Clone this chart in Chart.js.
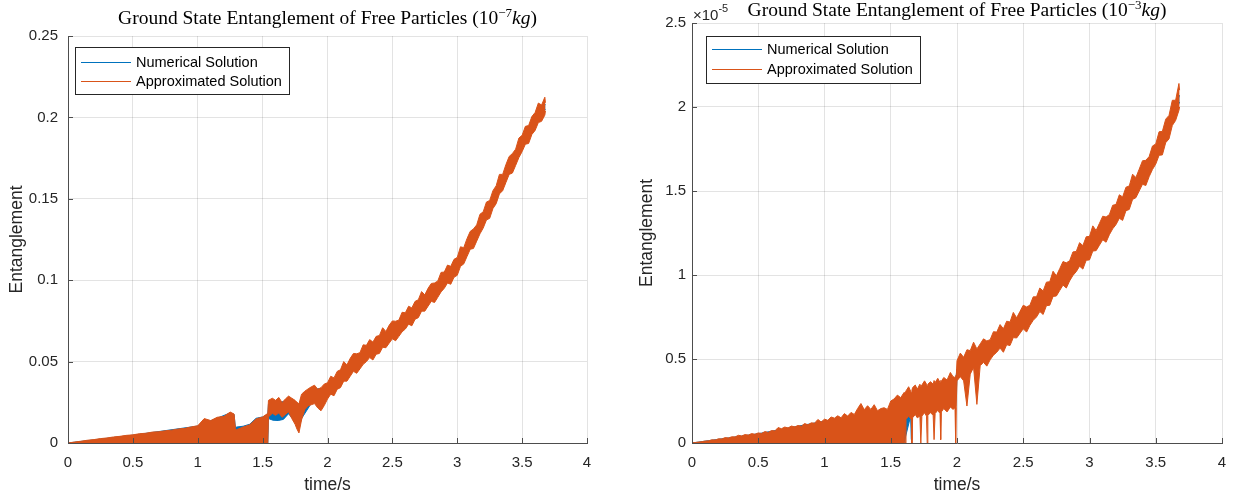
<!DOCTYPE html>
<html><head><meta charset="utf-8">
<script src="https://cdn.jsdelivr.net/npm/chart.js@4.4.0/dist/chart.umd.min.js"></script>
<style>
html,body{margin:0;padding:0;background:#fff;}
#wrap{position:relative;width:1239px;height:498px;overflow:hidden;background:#fff;}
canvas{position:absolute;top:0;}
#c1{left:0;width:620px;height:498px;} #c2{left:620px;width:619px;height:498px;}
</style></head><body>
<div id="wrap"><canvas id="c1" width="620" height="498"></canvas><canvas id="c2" width="619" height="498"></canvas></div>
<script>
// ---------- labels ----------
const SERIES_NAMES = ['Numerical Solution', 'Approximated Solution'];
const X_TICKS = [0, 0.5, 1, 1.5, 2, 2.5, 3, 3.5, 4];
const X_TICK_LABELS = ['0', '0.5', '1', '1.5', '2', '2.5', '3', '3.5', '4'];
const Y_TICKS_L = [0, 0.05, 0.1, 0.15, 0.2, 0.25];
const Y_TICK_LABELS_L = ['0', '0.05', '0.1', '0.15', '0.2', '0.25'];
const Y_TICKS_R = [0, 0.5, 1, 1.5, 2, 2.5];
const Y_TICK_LABELS_R = ['0', '0.5', '1', '1.5', '2', '2.5'];

// ---------- left chart (10^-7 kg) ----------
// approximated solution: [time, upper edge, lower edge] of the oscillating band
const L_APPROX = [
[0,0,0],[0.05,0.0006,0],[0.1,0.0011,0],[0.15,0.0017,0],[0.2,0.0021,0],[0.25,0.0027,0],[0.3,0.0031,0],[0.35,0.0037,0],[0.4,0.0041,0],[0.45,0.0047,0],
[0.5,0.0050,0],[0.55,0.0057,0],[0.6,0.0060,0],[0.65,0.0067,0],[0.7,0.0069,0],[0.75,0.0075,0],[0.8,0.0079,0],[0.85,0.0086,0],[0.9,0.0090,0],[0.95,0.0099,0],
[1.0,0.0106,0],[1.05,0.0150,0],[1.1,0.0138,0],[1.15,0.0158,0],[1.2,0.0163,0],[1.25,0.0190,0],[1.28,0.0178,0],[1.29,0.0088,0],[1.3,0.0082,0],[1.35,0.0098,0],
[1.4,0.0112,0],[1.45,0.0148,0],[1.5,0.0160,0],[1.54,0.0182,0],
[1.545,0.0262,0.0160],[1.575,0.0275,0.0182],[1.6,0.0262,0.0170],[1.625,0.0280,0.0185],[1.65,0.0248,0.0158],[1.675,0.0270,0.0175],[1.7,0.0288,0.0192],
[1.725,0.0275,0.0150],[1.75,0.0262,0.0115],[1.765,0.0250,0.0085],[1.78,0.0240,0.0062],[1.8,0.0300,0.0142],[1.825,0.0318,0.0205],[1.85,0.0332,0.0228],
[1.875,0.0345,0.0235],[1.9,0.0355,0.0242],[1.925,0.0330,0.0215],[1.95,0.0340,0.0198],[1.975,0.0362,0.0230],
[2.0,0.037,0.027],[2.025,0.041,0.030],[2.05,0.040,0.029],[2.075,0.044,0.033],[2.1,0.045,0.034],[2.125,0.050,0.038],[2.15,0.048,0.038],[2.175,0.052,0.041],
[2.2,0.055,0.044],[2.225,0.0548,0.0428],[2.25,0.0555,0.0455],[2.275,0.0603,0.0483],[2.3,0.060,0.050],[2.325,0.0635,0.0525],[2.35,0.062,0.051],[2.375,0.0655,0.0545],
[2.4,0.066,0.055],[2.425,0.0708,0.0588],[2.45,0.0685,0.0585],[2.475,0.0723,0.0613],[2.5,0.075,0.064],[2.525,0.0748,0.0628],[2.55,0.0755,0.0655],[2.575,0.0803,0.0683],
[2.6,0.080,0.070],[2.625,0.084,0.073],[2.65,0.083,0.072],[2.675,0.087,0.076],[2.7,0.088,0.077],[2.725,0.093,0.081],[2.75,0.091,0.081],[2.775,0.095,0.084],
[2.8,0.098,0.087],[2.825,0.0983,0.0863],[2.85,0.0995,0.0895],[2.875,0.1048,0.0928],[2.9,0.105,0.095],[2.925,0.1093,0.0983],[2.95,0.1085,0.0975],[2.975,0.1128,0.1018],
[3.0,0.114,0.103],[3.025,0.1205,0.1085],[3.05,0.120,0.110],[3.075,0.1255,0.1145],[3.1,0.130,0.119],[3.125,0.1315,0.1195],[3.15,0.134,0.124],[3.175,0.1405,0.1285],
[3.2,0.142,0.132],[3.225,0.148,0.137],[3.25,0.149,0.138],[3.275,0.155,0.144],[3.3,0.158,0.147],[3.325,0.165,0.153],[3.35,0.165,0.155],[3.375,0.171,0.160],
[3.4,0.176,0.165],[3.425,0.1778,0.1658],[3.45,0.1805,0.1705],[3.475,0.1873,0.1753],[3.5,0.189,0.179],[3.525,0.1945,0.1835],[3.55,0.195,0.184],[3.575,0.2005,0.1895],
[3.6,0.203,0.192],[3.625,0.2088,0.1968],[3.65,0.2076,0.1976],[3.675,0.2124,0.2014],[3.68,0.209,0.204]
];
// numerical solution band (mostly hidden under the approximated one)
const L_NUM = [
[0,0,0],[0.5,0.0048,0],[1.0,0.0104,0],[1.25,0.0185,0],[1.28,0.0175,0],[1.29,0.0096,0],[1.3,0.0098,0],[1.35,0.0103,0],[1.4,0.0115,0],[1.45,0.0152,0],
[1.5,0.0160,0],[1.54,0.0176,0],[1.545,0.0240,0.0150],[1.58,0.0250,0.0140],[1.62,0.0245,0.0138],[1.66,0.0255,0.0145],[1.7,0.0270,0.0180],[1.75,0.0250,0.0130],
[1.78,0.0230,0.0100],[1.8,0.0280,0.0150],[1.88,0.0330,0.0250],[1.9,0.0330,0.0250],[2.0,0.0340,0.0290],[2.25,0.0535,0.0495],[2.5,0.070,0.066],[2.75,0.089,0.085],
[3.0,0.111,0.107],[3.25,0.147,0.143],[3.5,0.186,0.182],[3.6,0.200,0.196],[3.68,0.208,0.205]
];

// ---------- right chart (10^-3 kg, values in units of 1e-5) ----------
const R_APPROX = [
[0,0,0],[0.025,0.003,0],[0.05,0.006,0],[0.075,0.008,0],[0.1,0.012,0],[0.125,0.013,0],[0.15,0.019,0],[0.175,0.018,0],[0.2,0.025,0],[0.225,0.024,0],
[0.25,0.032,0],[0.275,0.030,0],[0.3,0.037,0],[0.325,0.036,0],[0.35,0.046,0],[0.375,0.042,0],[0.4,0.050,0],[0.425,0.047,0],[0.45,0.056,0],[0.475,0.052,0],
[0.5,0.060,0],[0.525,0.057,0],[0.55,0.068,0],[0.575,0.063,0],[0.6,0.074,0],[0.625,0.072,0],[0.65,0.092,0],[0.675,0.085,0],[0.7,0.095,0],[0.725,0.090,0],
[0.75,0.101,0],[0.775,0.096,0],[0.8,0.104,0],[0.825,0.100,0],[0.85,0.116,0],[0.875,0.108,0],[0.9,0.120,0],[0.925,0.118,0],[0.95,0.140,0],[0.975,0.125,0],
[1.0,0.142,0],[1.025,0.135,0],[1.05,0.155,0],[1.075,0.148,0],[1.1,0.162,0],[1.125,0.150,0],[1.15,0.175,0],[1.175,0.160,0],[1.2,0.182,0],[1.225,0.170,0],
[1.25,0.205,0],[1.275,0.235,0],[1.3,0.198,0],[1.325,0.222,0],[1.35,0.200,0],[1.375,0.228,0],[1.4,0.192,0],[1.425,0.205,0],[1.45,0.210,0],[1.475,0.200,0],
[1.5,0.250,0],[1.525,0.262,0],[1.55,0.285,0],[1.575,0.270,0],[1.6,0.300,0],
[1.605,0.290,0.130],[1.61,0.305,0],[1.615,0.310,0.140],[1.635,0.335,0.160],[1.655,0.300,0.140],[1.66,0.315,0],[1.665,0.330,0.150],[1.685,0.345,0.170],
[1.7,0.320,0.150],[1.72,0.350,0.160],[1.727,0.335,0],[1.735,0.345,0.160],[1.755,0.370,0.180],[1.77,0.350,0.160],[1.775,0.340,0],[1.78,0.350,0.165],
[1.8,0.365,0.180],[1.82,0.350,0.165],[1.827,0.372,0.020],[1.835,0.360,0.175],[1.855,0.385,0.195],[1.872,0.360,0.175],[1.877,0.372,0.020],[1.882,0.368,0.185],
[1.9,0.390,0.205],[1.925,0.375,0.185],[1.95,0.420,0.215],[1.97,0.395,0.200],[1.985,0.390,0.210],[1.99,0.400,0],[1.995,0.405,0.250],
[2.0,0.49,0.37],[2.025,0.535,0.395],[2.05,0.51,0.37],[2.075,0.555,0.22],[2.1,0.55,0.41],[2.125,0.60,0.45],[2.15,0.56,0.23],[2.175,0.59,0.46],
[2.2,0.62,0.48],[2.225,0.6075,0.4575],[2.25,0.615,0.495],[2.275,0.6625,0.5225],[2.3,0.66,0.54],[2.325,0.705,0.565],[2.35,0.68,0.54],[2.375,0.725,0.585],
[2.4,0.72,0.58],[2.425,0.7775,0.6275],[2.45,0.745,0.625],[2.475,0.7825,0.6525],[2.5,0.82,0.68],[2.525,0.81,0.66],[2.55,0.82,0.70],[2.575,0.87,0.73],
[2.6,0.87,0.75],[2.625,0.9225,0.7825],[2.65,0.905,0.765],[2.675,0.9575,0.8175],[2.7,0.96,0.82],[2.725,1.0225,0.8725],[2.75,0.995,0.875],[2.775,1.0375,0.9075],
[2.8,1.08,0.94],[2.825,1.0725,0.9225],[2.85,1.085,0.965],[2.875,1.1375,0.9975],[2.9,1.14,1.02],[2.925,1.1925,1.0525],[2.95,1.175,1.035],[2.975,1.2275,1.0875],
[3.0,1.23,1.09],[3.025,1.2925,1.1425],[3.05,1.265,1.145],[3.075,1.3075,1.1775],[3.1,1.35,1.21],[3.125,1.345,1.195],[3.15,1.36,1.24],[3.175,1.415,1.275],
[3.2,1.42,1.30],[3.225,1.4775,1.3375],[3.25,1.465,1.325],[3.275,1.5225,1.3825],[3.3,1.53,1.39],[3.325,1.60,1.45],[3.35,1.58,1.46],[3.375,1.63,1.50],
[3.4,1.68,1.54],[3.425,1.6825,1.5325],[3.45,1.705,1.585],[3.475,1.7675,1.6275],[3.5,1.78,1.66],[3.525,1.8525,1.7125],[3.55,1.855,1.715],[3.575,1.9275,1.7875],
[3.6,1.95,1.81],[3.625,2.04,1.89],[3.65,2.04,1.92],[3.675,2.14,1.98],[3.68,2.10,2.00]
];
const R_NUM = [
[0,0,0],[0.5,0.055,0],[1.0,0.130,0],[1.5,0.190,0],[1.6,0.260,0],[1.65,0.290,0.160],[1.655,0.290,0.020],[1.66,0.290,0.160],[1.7,0.310,0.180],[1.8,0.340,0.190],
[1.9,0.360,0.210],[1.99,0.380,0.220],[2.0,0.44,0.40],[2.25,0.595,0.535],[2.5,0.76,0.70],[2.75,0.975,0.915],[3.0,1.20,1.14],[3.25,1.445,1.385],[3.5,1.75,1.69],
[3.6,1.92,1.86],[3.68,2.07,2.03]
];

const BLUE = '#0072BD', ORANGE = '#D95319';
const AXIS = '#4d4d4d', TXT = '#262626', GRID = 'rgba(38,38,38,0.13)';
const SANS = '"Liberation Sans", Arial, Helvetica, sans-serif';
const SERIF = '"Liberation Serif", "Times New Roman", serif';

function band(rows, color, label){
  return [
    {label:label, data:rows.map(r=>({x:r[0], y:r[1]})), borderColor:color, backgroundColor:color, borderWidth:1, pointRadius:0, fill:'+1', tension:0},
    {label:label+' (lower)', data:rows.map(r=>({x:r[0], y:r[2]})), borderColor:color, backgroundColor:color, borderWidth:1, pointRadius:0, fill:false, tension:0}
  ];
}

const mTitle = {
  id:'mTitle',
  afterDraw(chart, args, o){
    const ctx = chart.ctx; ctx.save();
    ctx.textBaseline = 'alphabetic';
    let w = 0;
    o.parts.forEach(p=>{ ctx.font = p.font; p._w = ctx.measureText(p.text).width; w += p._w; });
    let x = o.cx - w/2;
    o.parts.forEach(p=>{ ctx.font = p.font; ctx.fillStyle = '#000'; ctx.fillText(p.text, x, o.y + (p.dy||0)); x += p._w; });
    if (o.exp) {
      const a = chart.chartArea;
      ctx.fillStyle = TXT; ctx.font = '15px ' + SANS;
      ctx.fillText(o.exp.base, a.left + 1, o.exp.y);
      const bw = ctx.measureText(o.exp.base).width;
      ctx.font = '11px ' + SANS;
      ctx.fillText(o.exp.pow, a.left + 1 + bw, o.exp.y - 8);
    }
    ctx.restore();
  }
};
const boxLegend = {
  id:'boxLegend',
  afterDraw(chart, args, o){
    const ctx = chart.ctx; ctx.save();
    ctx.fillStyle = '#fff'; ctx.fillRect(o.x, o.y, o.w, o.h);
    ctx.strokeStyle = '#262626'; ctx.lineWidth = 1; ctx.strokeRect(o.x+0.5, o.y+0.5, o.w, o.h);
    o.items.forEach((it, i)=>{
      const y = Math.round(o.y + o.r0 + i*o.rh) + 0.5;
      ctx.strokeStyle = it.color; ctx.beginPath(); ctx.moveTo(o.x+o.l0, y); ctx.lineTo(o.x+o.l1, y); ctx.stroke();
      ctx.fillStyle = '#000'; ctx.font = o.font; ctx.textBaseline = 'middle';
      ctx.fillText(it.text, o.x+o.tx, y);
    });
    ctx.restore();
  }
};
const inTicks = {
  id:'inTicks',
  afterDraw(chart){
    const ctx = chart.ctx, a = chart.chartArea, xs = chart.scales.x, ys = chart.scales.y;
    ctx.save(); ctx.strokeStyle = AXIS; ctx.lineWidth = 1; ctx.beginPath();
    xs.ticks.forEach(t=>{ const p = Math.round(xs.getPixelForValue(t.value))+0.5; ctx.moveTo(p, a.bottom); ctx.lineTo(p, a.bottom-5); });
    ys.ticks.forEach(t=>{ const p = Math.round(ys.getPixelForValue(t.value))+0.5; ctx.moveTo(a.left, p); ctx.lineTo(a.left+5, p); });
    ctx.stroke(); ctx.restore();
  }
};

function makeChart(id, cfg){
  const datasets = [].concat(band(cfg.approx, ORANGE, SERIES_NAMES[1]), band(cfg.num, BLUE, SERIES_NAMES[0]));
  return new Chart(document.getElementById(id), {
    type:'line',
    data:{datasets:datasets},
    plugins:[inTicks, boxLegend, mTitle],
    options:{
      responsive:false, animation:false, devicePixelRatio:1,
      layout:{padding:{left:0, right:cfg.padR, top:cfg.padT, bottom:0}},
      plugins:{
        legend:{display:false}, tooltip:{enabled:false}, title:{display:false},
        filler:{propagate:false},
        boxLegend:Object.assign({items:[{text:SERIES_NAMES[0], color:BLUE},{text:SERIES_NAMES[1], color:ORANGE}], font:'14.5px ' + SANS}, cfg.legend),
        mTitle:cfg.title
      },
      scales:{
        x:{type:'linear', min:0, max:4,
           afterBuildTicks:s=>{ s.ticks = X_TICKS.map(v=>({value:v})); },
           afterFit:s=>{ s.height = 55; },
           ticks:{callback:(v,i)=>X_TICK_LABELS[i], padding:11, color:TXT, font:{family:SANS, size:15}, maxRotation:0, autoSkip:false},
           grid:{color:GRID, drawTicks:false}, border:{display:true, color:AXIS, width:1},
           title:{display:true, text:'time/s', color:TXT, font:{family:SANS, size:17.5}, padding:{top:0, bottom:2}}},
        y:{type:'linear', min:0, max:cfg.ymax,
           afterBuildTicks:s=>{ s.ticks = cfg.yt.map(v=>({value:v})); },
           afterFit:s=>{ s.width = cfg.yw; },
           ticks:{callback:(v,i)=>cfg.ytl[i], padding:cfg.ytPad, color:TXT, font:{family:SANS, size:15}, autoSkip:false},
           grid:{color:GRID, drawTicks:false}, border:{display:true, color:AXIS, width:1},
           title:{display:true, text:'Entanglement', color:TXT, font:{family:SANS, size:17.5}, padding:{top:cfg.ytitlePad, bottom:0}}}
      }
    }
  });
}

makeChart('c1', {
  approx:L_APPROX, num:L_NUM,
  ymax:0.25, yt:Y_TICKS_L, ytl:Y_TICK_LABELS_L, yw:68, padR:33, padT:36, ytitlePad:7, ytPad:10,
  legend:{x:75, y:47, w:214, h:47, r0:15, rh:19, l0:6, l1:56, tx:61},
  title:{cx:327.5, y:24, parts:[
    {text:'Ground State Entanglement of Free Particles (10', font:'19.5px '+SERIF},
    {text:'\u22127', font:'13px '+SERIF, dy:-7},
    {text:'kg', font:'italic 19.5px '+SERIF},
    {text:')', font:'19.5px '+SERIF}]}
});
makeChart('c2', {
  approx:R_APPROX, num:R_NUM,
  ymax:2.5, yt:Y_TICKS_R, ytl:Y_TICK_LABELS_R, yw:72, padR:17, padT:23, ytitlePad:17, ytPad:6,
  legend:{x:86, y:36, w:214, h:47, r0:13, rh:20, l0:6, l1:56, tx:61},
  title:{cx:337, y:16, exp:{base:'\u00d710', pow:'-5', y:20}, parts:[
    {text:'Ground State Entanglement of Free Particles (10', font:'19.5px '+SERIF},
    {text:'\u22123', font:'13px '+SERIF, dy:-7},
    {text:'kg', font:'italic 19.5px '+SERIF},
    {text:')', font:'19.5px '+SERIF}]}
});
</script>
</body></html>
